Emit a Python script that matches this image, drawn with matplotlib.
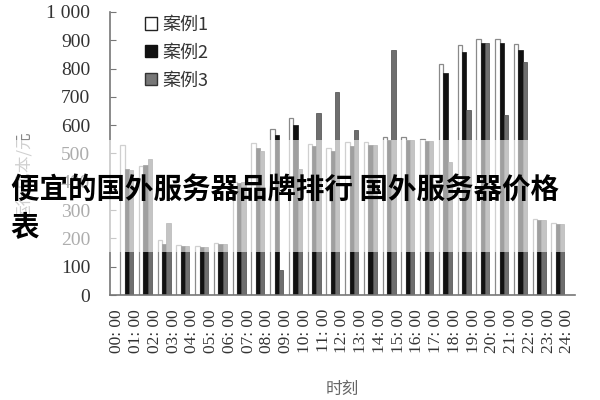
import matplotlib.pyplot as plt
import numpy as np
from matplotlib.patches import Patch, Rectangle

# hour labels on the x axis
hour_labels = [f"{h:02d}: 00" for h in range(25)]

# one value per hour 00..23
case1 = [530, 455, 194, 175, 172, 185, 400, 537, 586, 625, 535, 520,
         540, 540, 557, 557, 553, 818, 883, 904, 904, 886, 268, 254]
case2 = [445, 460, 180, 173, 170, 180, 395, 520, 565, 600, 525, 510,
         525, 530, 547, 547, 545, 784, 860, 890, 890, 866, 265, 250]
case3 = [440, 480, 254, 173, 170, 180, 400, 510, 90, 445, 643, 717,
         583, 530, 866, 547, 545, 470, 654, 890, 636, 825, 265, 250]

series_names = ["案例1", "案例2", "案例3"]
y_ticks = [0, 100, 200, 300, 400, 500, 600, 700, 800, 900, 1000]
y_tick_labels = ["0", "100", "200", "300", "400", "500", "600", "700", "800", "900", "1 000"]

serif = ["Liberation Serif", "Noto Sans CJK SC"]
cjk = ["Noto Sans CJK SC", "DejaVu Sans"]

fig = plt.figure(figsize=(6, 4), dpi=100)
ax = fig.add_axes([0.183, 0.2625, 0.775, 0.7075])

x = np.arange(len(case1)) + 0.5
w = 0.23
ax.bar(x - w, case1, w, color="white", edgecolor="#8a8a8a", linewidth=0.9, zorder=2)
ax.bar(x, case2, w, color="#111111", edgecolor="#111111", linewidth=0.5, zorder=2)
ax.bar(x + w, case3, w, color="#6e6e6e", edgecolor="#4a4a4a", linewidth=0.5, zorder=2)

ax.set_xlim(-0.4, 24.4)
ax.set_ylim(0, 1000)
ax.set_xticks(np.arange(25))
ax.set_xticklabels(hour_labels, rotation=90, family=serif, fontsize=12.5, color="#333333")
ax.set_yticks(y_ticks)
ax.set_yticklabels(y_tick_labels, family=serif, fontsize=14, color="#333333")
ax.tick_params(axis="x", length=0, pad=10)
ax.tick_params(axis="y", direction="in", length=4, color="#777777", pad=14)

for s in ["top", "right"]:
    ax.spines[s].set_visible(False)
for s in ["left", "bottom"]:
    ax.spines[s].set_color("#777777")
    ax.spines[s].set_linewidth(1.2)

ax.set_xlabel("时刻", family=cjk, fontsize=12, color="#666666", labelpad=20)
ax.set_ylabel("运行成本/元", family=cjk, fontsize=12, color="#888888", labelpad=10)
ax.yaxis.set_label_coords(-0.165, 0.42)

handles = [
    Patch(facecolor="white", edgecolor="#222222", linewidth=1.0),
    Patch(facecolor="#111111", edgecolor="#111111"),
    Patch(facecolor="#777777", edgecolor="#333333", linewidth=1.0),
]
ax.legend(handles, series_names, loc="upper left", bbox_to_anchor=(0.04, 1.045),
          frameon=False, handlelength=0.7, handleheight=0.7, handletextpad=0.3,
          labelspacing=0.55, prop={"family": cjk, "size": 13}, labelcolor="#333333")

# white watermark band with the overlay title
fig.patches.append(Rectangle((0, 0.37), 1, 0.28, transform=fig.transFigure,
                             facecolor="white", alpha=0.6, edgecolor="none", zorder=5))
fig.text(0.018, 0.525, "便宜的国外服务器品牌排行 国外服务器价格", family=cjk,
         fontsize=20.5, fontweight="heavy", color="black", va="center", ha="left", zorder=6)
fig.text(0.018, 0.43, "表", family=cjk,
         fontsize=20.5, fontweight="heavy", color="black", va="center", ha="left", zorder=6)

fig.savefig("out.png", dpi=100)
